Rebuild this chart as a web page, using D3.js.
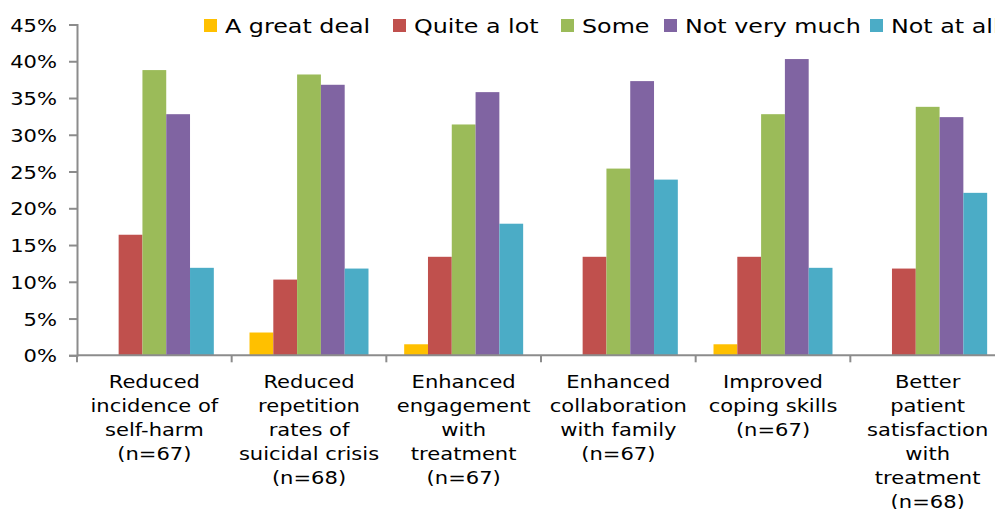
<!DOCTYPE html>
<html>
<head>
<meta charset="utf-8">
<script src="https://cdn.jsdelivr.net/npm/d3@7"></script>
<style>
  html, body { margin: 0; padding: 0; background: #fff; overflow: hidden; }
  svg { display: block; font-family: "DejaVu Sans", Verdana, sans-serif; }
</style>
</head>
<body>
<svg id="chart" width="995" height="509"></svg>
<script>
const categories = [
  "Reduced\nincidence of\nself-harm\n(n=67)",
  "Reduced\nrepetition\nrates of\nsuicidal crisis\n(n=68)",
  "Enhanced\nengagement\nwith\ntreatment\n(n=67)",
  "Enhanced\ncollaboration\nwith family\n(n=67)",
  "Improved\ncoping skills\n(n=67)",
  "Better\npatient\nsatisfaction\nwith\ntreatment\n(n=68)"
];
const seriesNames = ["A great deal", "Quite a lot", "Some", "Not very much", "Not at all"];
const aGreatDeal  = [0,    3.1,  1.5,  0,    1.5,  0];
const quiteALot   = [16.4, 10.3, 13.4, 13.4, 13.4, 11.8];
const some        = [38.8, 38.2, 31.4, 25.4, 32.8, 33.8];
const notVeryMuch = [32.8, 36.8, 35.8, 37.3, 40.3, 32.4];
const notAtAll    = [11.9, 11.8, 17.9, 23.9, 11.9, 22.1];
const yTicks = [0, 5, 10, 15, 20, 25, 30, 35, 40, 45];
const colors = ["#FFC000", "#C0504D", "#9BBB59", "#8064A2", "#4BACC6"];

const seriesValues = [aGreatDeal, quiteALot, some, notVeryMuch, notAtAll];

const svg = d3.select("#chart");
const pLeft = 77, pRight = 1005, pTop = 24.5, pBottom = 355.3;
const stretch = 1.17;

const x0 = d3.scaleBand().domain(categories).range([pLeft, pRight]).paddingInner(0).paddingOuter(0);
const x1 = d3.scaleBand().domain(seriesNames).range([0, x0.bandwidth()]).paddingInner(0).paddingOuter(0.75);
const y = d3.scaleLinear().domain([0, 45]).range([pBottom, pTop]);

// bars
const groups = svg.append("g").selectAll("g")
  .data(categories).join("g")
  .attr("transform", d => `translate(${x0(d)},0)`);

groups.selectAll("rect")
  .data((c, i) => seriesNames.map((s, j) => ({ s, j, v: seriesValues[j][i] })))
  .join("rect")
  .attr("x", d => x1(d.s))
  .attr("width", x1.bandwidth())
  .attr("y", d => y(d.v))
  .attr("height", d => pBottom - y(d.v))
  .attr("fill", d => colors[d.j]);

const axisColor = "#8c8c8c";

// y axis
const yAxis = svg.append("g")
  .attr("transform", `translate(${pLeft},0)`)
  .call(d3.axisLeft(y).tickValues(yTicks).tickFormat(d => d + "%").tickSizeOuter(0).tickSize(8).tickPadding(10));
yAxis.select(".domain").attr("stroke", axisColor).attr("stroke-width", 2);
yAxis.selectAll(".tick line").attr("stroke", axisColor).attr("stroke-width", 2);
yAxis.selectAll(".tick text")
  .attr("font-size", 18).attr("fill", "#000")
  .attr("font-family", "'DejaVu Sans', Verdana, sans-serif")
  .attr("x", null).attr("dy", null)
  .attr("transform", `translate(-20,6.5) scale(${stretch},1)`);

// x axis (ticks at category boundaries)
const boundaries = categories.map(c => x0(c)).concat([pRight]);
const xg = svg.append("g");
xg.append("line").attr("x1", pLeft).attr("x2", pRight).attr("y1", pBottom).attr("y2", pBottom)
  .attr("stroke", axisColor).attr("stroke-width", 2);
xg.selectAll("line.tk").data(boundaries).join("line").attr("class", "tk")
  .attr("x1", d => d).attr("x2", d => d).attr("y1", pBottom).attr("y2", pBottom + 7)
  .attr("stroke", axisColor).attr("stroke-width", 2);

// category labels
const labels = svg.append("g").selectAll("text")
  .data(categories).join("text")
  .attr("transform", d => `translate(${x0(d) + x0.bandwidth() / 2},388) scale(${stretch},1)`)
  .attr("text-anchor", "middle")
  .attr("font-size", 18)
  .attr("fill", "#000");
labels.each(function(d) {
  const t = d3.select(this);
  d.split("\n").forEach((line, i) => {
    t.append("tspan").attr("x", 0).attr("dy", i === 0 ? 0 : 24).text(line);
  });
});

// legend
const legendX = [204, 393, 561, 664, 870];
const lg = svg.append("g").selectAll("g").data(seriesNames).join("g")
  .attr("transform", (d, i) => `translate(${legendX[i]},0)`);
lg.append("rect").attr("x", 0).attr("y", 19).attr("width", 13).attr("height", 13)
  .attr("fill", (d, i) => colors[i]);
lg.append("text")
  .attr("transform", `translate(21,32.5) scale(1.19,1)`)
  .attr("font-size", 20).attr("fill", "#000")
  .text(d => d);
</script>
</body>
</html>
